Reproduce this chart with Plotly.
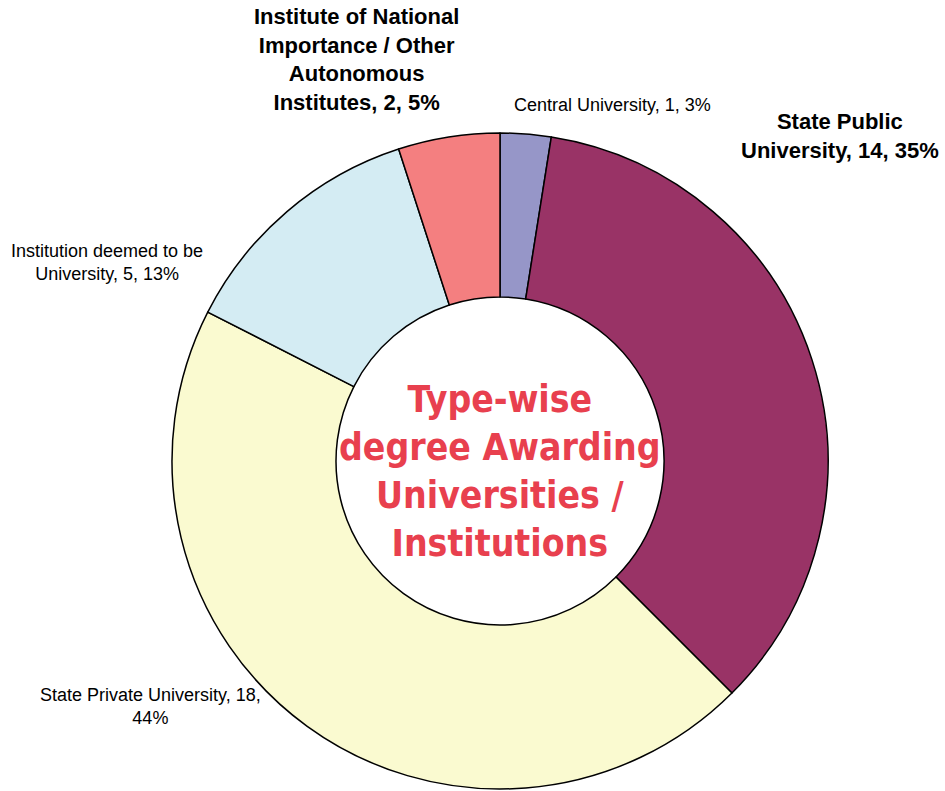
from plotly import graph_objects as go

# data
categories = ["Central University", "State Public University", "State Private University",
              "Institution deemed to be University", "Institute of National Importance / Other Autonomous Institutes"]
counts = [1, 14, 18, 5, 2]
pct_labels = ["3%", "35%", "44%", "13%", "5%"]
colors = ["#9696c8", "#993366", "#fafad0", "#d4ecf3", "#f47f80"]

W, H = 945, 791

fig = go.Figure()
fig.add_trace(
    go.Pie(
        values=counts,
        labels=categories,
        sort=False,
        direction="clockwise",
        rotation=0,
        hole=0.5,
        textinfo="none",
        marker={"colors": colors, "line": {"color": "black", "width": 1.5}},
        domain={"x": [172 / W, 828 / W], "y": [1 - 789 / H, 1 - 133 / H]},
        showlegend=False,
    )
)

# label texts (name, count, percentage) as in the original
def label(i, breaks):
    txt = f"{categories[i]}, {counts[i]}, {pct_labels[i]}"
    for a, b in breaks:
        txt = txt.replace(a, b, 1)
    return txt

labels_cfg = [
    # idx, text-breaks, x px, y px (center), bold, size
    (0, [], 612, 105, False, 18),
    (1, [("Public ", "Public<br>")], 840, 136, True, 22),
    (2, [("18, ", "18,<br>")], 150, 706, False, 18),
    (3, [("to be ", "to be<br>")], 107, 262, False, 18),
    (4, [("National ", "National<br>"), ("/ Other ", "/ Other<br>"), ("Autonomous ", "Autonomous<br>")], 356, 60, True, 22),
]

for idx, breaks, px, py, bold, size in labels_cfg:
    txt = label(idx, breaks)
    if bold:
        txt = "<b>" + txt.replace("<br>", "</b><br><b>") + "</b>"
    fig.add_annotation(
        x=px / W, y=1 - py / H, xref="paper", yref="paper",
        text=txt, showarrow=False, xanchor="center", yanchor="middle",
        align="center",
        font={"family": "Liberation Sans, Arial", "size": size, "color": "black"},
    )

fig.add_annotation(
    x=500 / W, y=1 - 472 / H, xref="paper", yref="paper",
    text="<b>Type-wise<br>degree Awarding<br>Universities /<br>Institutions</b>",
    showarrow=False, xanchor="center", yanchor="middle", align="center",
    font={"family": "DejaVu Sans Condensed, Liberation Sans Narrow", "size": 37, "color": "#e8404e"},
)

fig.update_layout(
    width=W, height=H,
    margin={"t": 0, "r": 0, "l": 0, "b": 0},
    paper_bgcolor="white",
    plot_bgcolor="white",
)

fig.write_html("out.html", config={"displayModeBar": False},
               post_script="document.body.style.margin='0';")
